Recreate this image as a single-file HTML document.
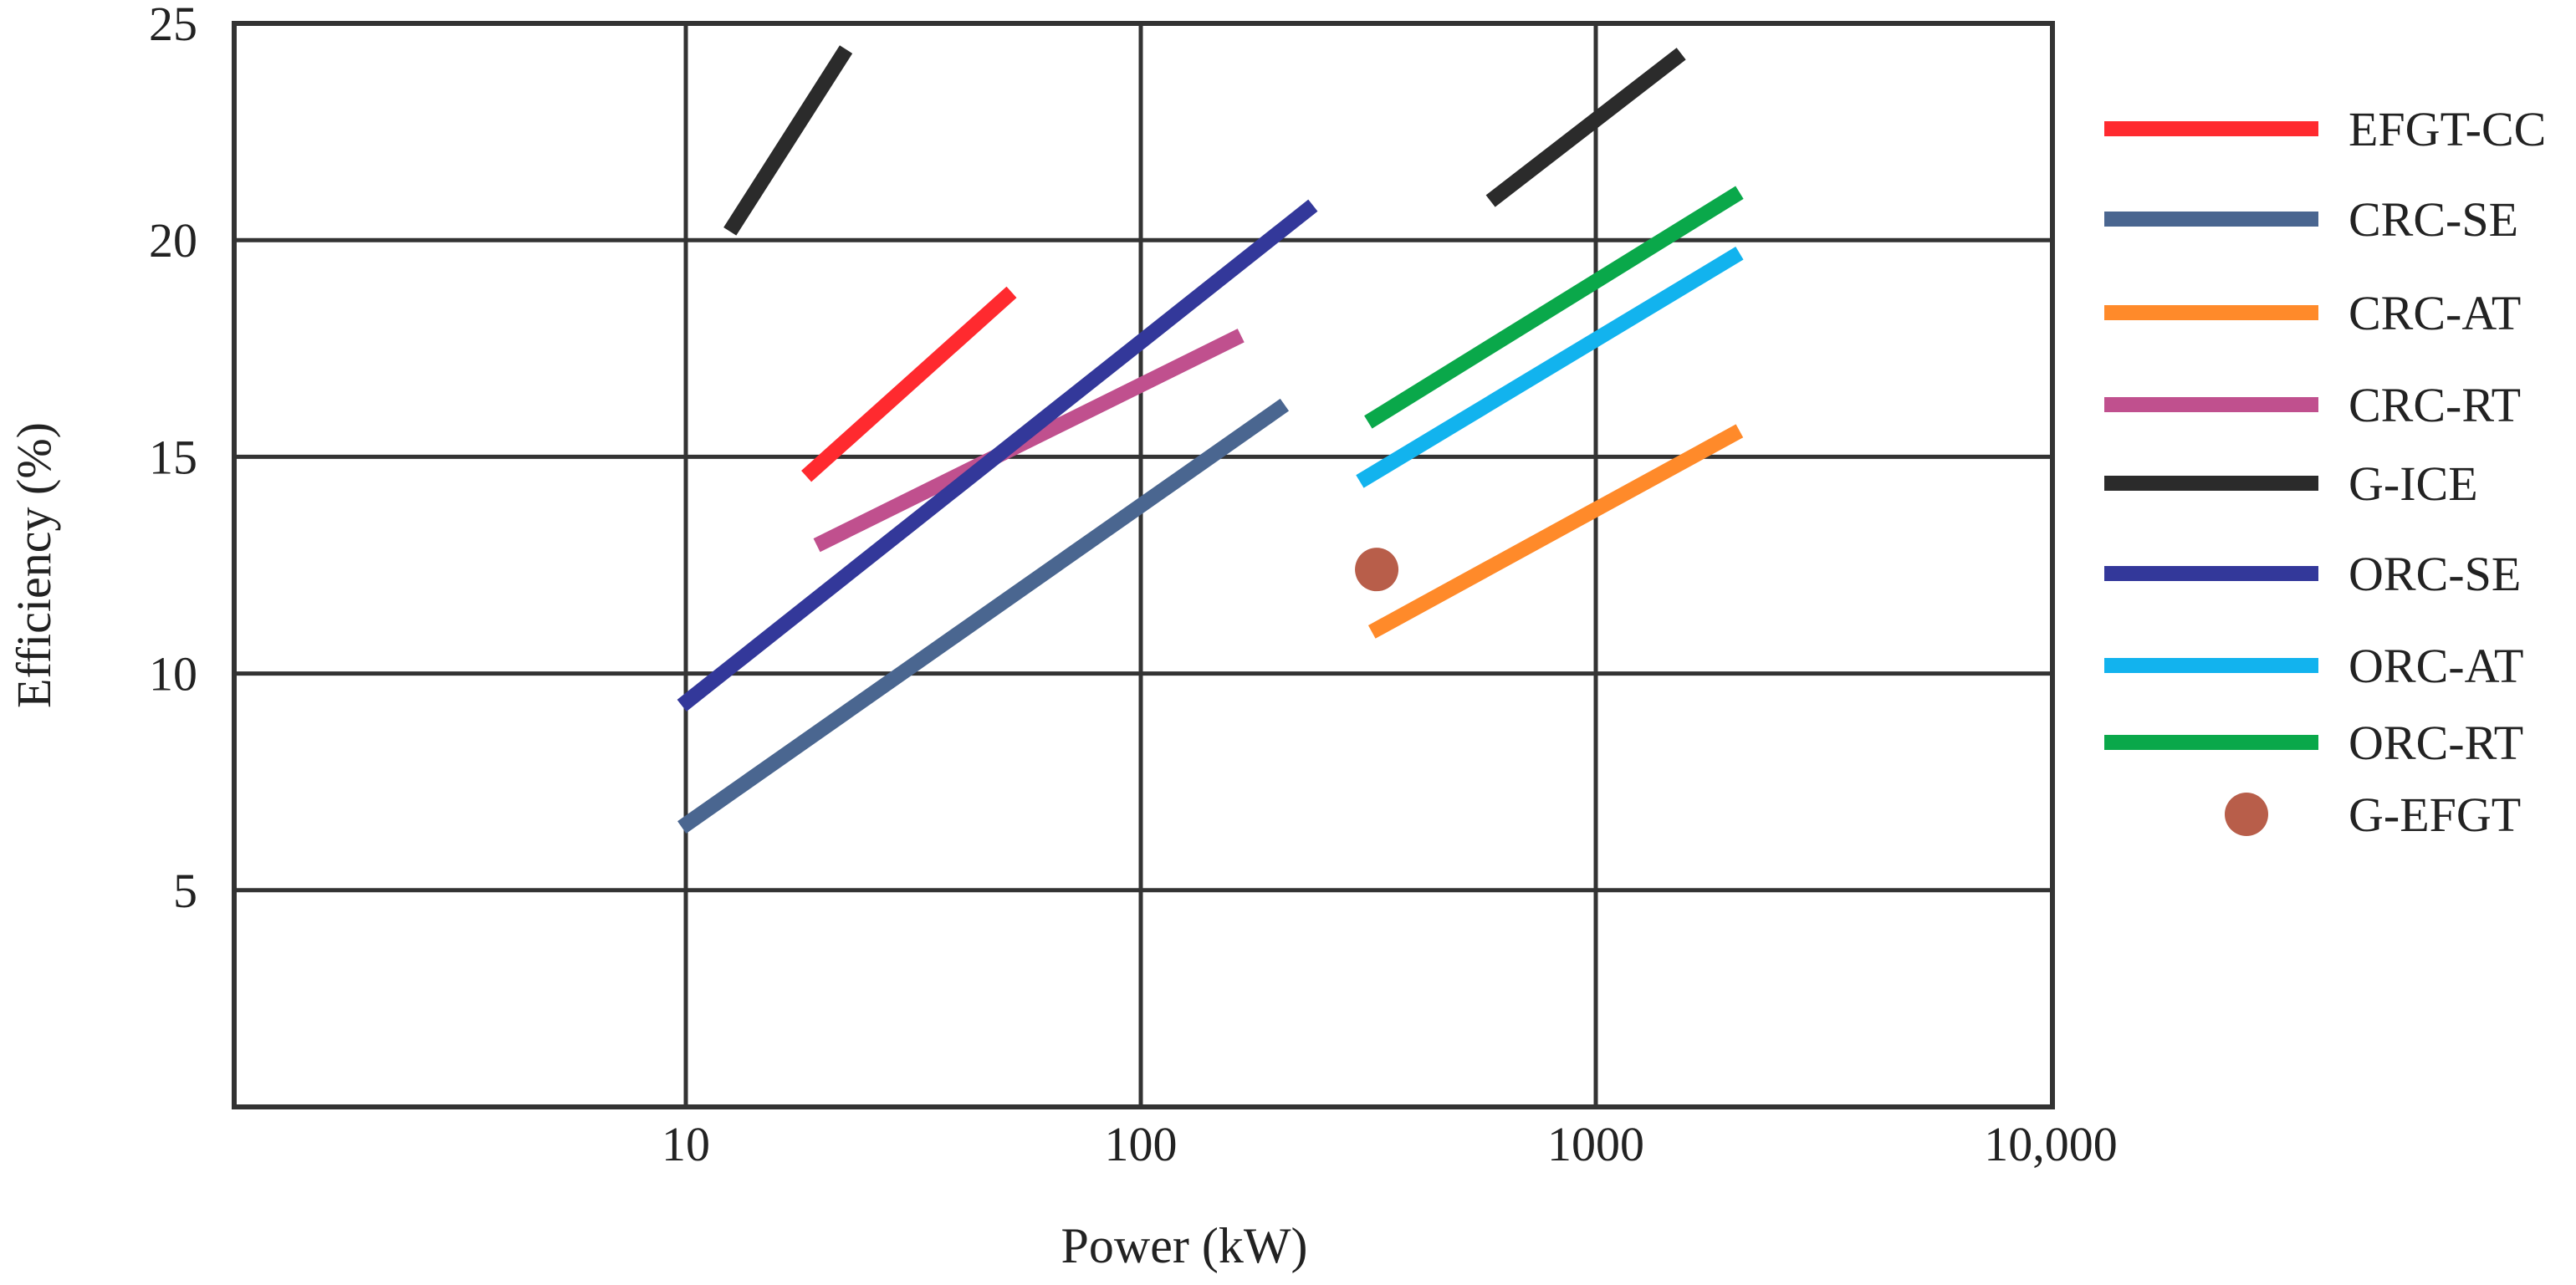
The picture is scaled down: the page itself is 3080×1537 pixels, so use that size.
<!DOCTYPE html>
<html><head><meta charset="utf-8"><style>
html,body{margin:0;padding:0;background:#fff;overflow:hidden;}
svg{display:block;}
text{font-family:"Liberation Serif",serif;fill:#222;}
</style></head><body>
<svg id="chart" width="3080" height="1537" viewBox="0 0 1540 768.5" xmlns="http://www.w3.org/2000/svg">
<g id="grid"></g>
<g id="series"></g>
<g id="axes"></g>
<g id="legend"></g>
<text transform="translate(30,338) rotate(-90)" text-anchor="middle" font-size="29">Efficiency (%)</text>
<text x="708" y="755" text-anchor="middle" font-size="30">Power (kW)</text>
</svg>
<script>
const seriesNames = ["EFGT-CC","CRC-SE","CRC-AT","CRC-RT","G-ICE","G-ICE","ORC-SE","ORC-AT","ORC-RT"];
const seriesColors = ["#ff2a2f","#4a6690","#ff8a2a","#c0508e","#2b2b2b","#2b2b2b","#33389a","#12b3ee","#0aa84a"];
const seriesX = [[18.4,52],[9.8,207],[322,2070],[19.4,166],[12.5,22.5],[587,1541],[9.8,239],[303,2070],[316,2070]];
const seriesY = [[14.55,18.8],[6.45,16.2],[10.96,15.6],[12.96,17.8],[20.2,24.4],[20.9,24.3],[9.26,20.8],[14.43,19.7],[15.8,21.1]];
const pointX = [330];
const pointY = [12.4];
const yTicks = [5,10,15,20,25];
const xTicks = [10,100,1000,10000];
const xTickLabels = ["10","100","1000","10,000"];
const legendNames = ["EFGT-CC","CRC-SE","CRC-AT","CRC-RT","G-ICE","ORC-SE","ORC-AT","ORC-RT","G-EFGT"];
const legendColors = ["#ff2a2f","#4a6690","#ff8a2a","#c0508e","#2b2b2b","#33389a","#12b3ee","#0aa84a","#b85e4a"];

const NS="http://www.w3.org/2000/svg";
const L=140,R=1227,T=14,B=662;
function xs(v){return 138+272*Math.log10(v);}
function ys(v){return 662-25.92*v;}
function mk(tag,attrs,parent){const e=document.createElementNS(NS,tag);for(const k in attrs)e.setAttribute(k,attrs[k]);parent.appendChild(e);return e;}
const grid=document.getElementById('grid'),ser=document.getElementById('series'),axes=document.getElementById('axes'),leg=document.getElementById('legend');
yTicks.forEach(t=>{
  const g=mk('line',{x1:L,x2:R,y1:ys(t),y2:ys(t),stroke:'#333','stroke-width':2.5},grid);
  
  
  const tx=mk('text',{x:118,y:ys(t)+10,'text-anchor':'end','font-size':29},axes);
  tx.textContent=t;
  
  
});
xTicks.forEach((t,i)=>{
  if(i<3){const g=mk('line',{x1:xs(t),x2:xs(t),y1:T,y2:B,stroke:'#333','stroke-width':2.5},grid);
  
  }
  const tx=mk('text',{x:xs(t),y:694,'text-anchor':'middle','font-size':29},axes);
  tx.textContent=xTickLabels[i];
  
  
});
const fr=mk('rect',{x:L,y:T,width:R-L,height:B-T,fill:'none',stroke:'#333','stroke-width':3},axes);


seriesNames.forEach((n,i)=>{
  const l=mk('line',{x1:xs(seriesX[i][0]),y1:ys(seriesY[i][0]),x2:xs(seriesX[i][1]),y2:ys(seriesY[i][1]),stroke:seriesColors[i],'stroke-width':9},ser);
  
  
});
pointX.forEach((v,i)=>{
  const c=mk('circle',{cx:xs(v),cy:ys(pointY[i]),r:13,fill:'#b85e4a'},ser);
  
  
});
const legY=[77,131,187,242,289,343,398,444,487];
legendNames.forEach((n,i)=>{
  let m;
  if(i<8){m=mk('line',{x1:1258,x2:1386,y1:legY[i],y2:legY[i],stroke:legendColors[i],'stroke-width':9},leg);}
  else{m=mk('circle',{cx:1343,cy:legY[i],r:13,fill:legendColors[i]},leg);}
  
  
  const tx=mk('text',{x:1404,y:legY[i]+10,'font-size':29},leg);
  tx.textContent=n;
  
  
});
</script>
</body></html>
